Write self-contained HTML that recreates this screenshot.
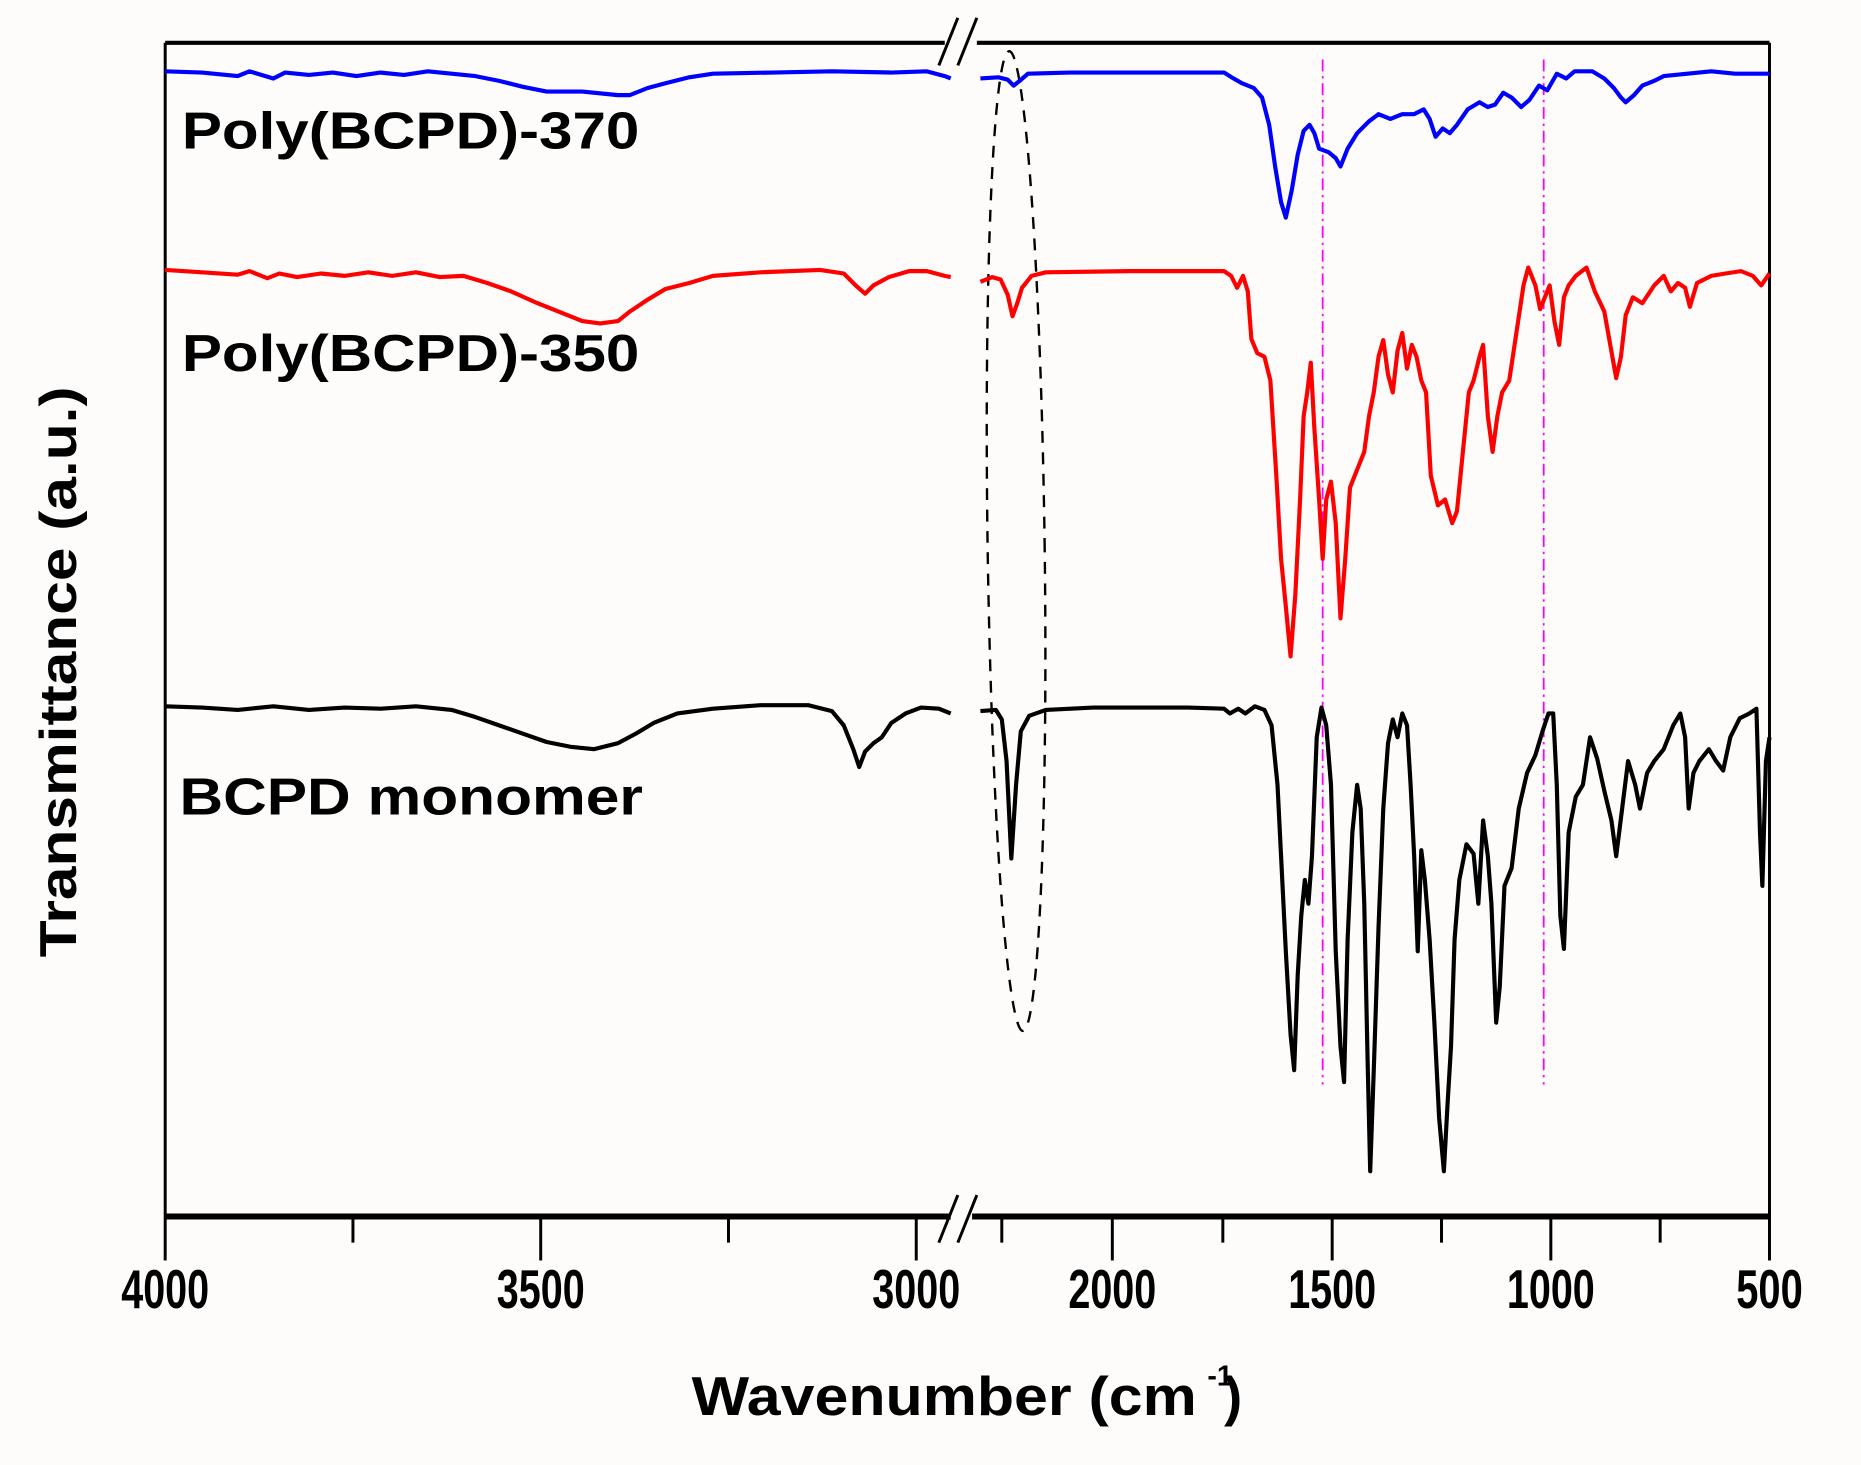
<!DOCTYPE html>
<html><head><meta charset="utf-8"><style>
html,body{margin:0;padding:0;background:#fff;}
svg{display:block;}
text{font-family:"Liberation Sans",Arial,sans-serif;font-weight:bold;fill:#000;}
</style></head><body>
<svg width="1861" height="1465" viewBox="0 0 1566 1232" preserveAspectRatio="none" xmlns="http://www.w3.org/2000/svg">
<rect width="1566" height="1232" fill="#fdfcfb"/>
<g stroke="#000" fill="none">
<line x1="139" y1="36" x2="795" y2="36" stroke-width="3.5"/>
<line x1="822" y1="36" x2="1489" y2="36" stroke-width="3.5"/>
<line x1="139" y1="36" x2="139" y2="1023" stroke-width="2.5"/>
<line x1="1489" y1="36" x2="1489" y2="1023" stroke-width="2.5"/>
<line x1="139" y1="1023" x2="800" y2="1023" stroke-width="5"/>
<line x1="818" y1="1023" x2="1489" y2="1023" stroke-width="5"/>
<line x1="790" y1="55" x2="806" y2="15" stroke-width="2.5"/>
<line x1="806" y1="55" x2="822" y2="15" stroke-width="2.5"/>
<line x1="790" y1="1045" x2="806" y2="1005" stroke-width="2.5"/>
<line x1="806" y1="1045" x2="822" y2="1005" stroke-width="2.5"/>
<g stroke-width="2.5">
<line x1="139" y1="1023" x2="139" y2="1060"/><line x1="455" y1="1023" x2="455" y2="1060"/><line x1="771" y1="1023" x2="771" y2="1060"/>
<line x1="936" y1="1023" x2="936" y2="1060"/><line x1="1121" y1="1023" x2="1121" y2="1060"/><line x1="1305" y1="1023" x2="1305" y2="1060"/><line x1="1489" y1="1023" x2="1489" y2="1060"/>
<line x1="297" y1="1023" x2="297" y2="1045"/><line x1="613" y1="1023" x2="613" y2="1045"/><line x1="843" y1="1023" x2="843" y2="1045"/>
<line x1="1029" y1="1023" x2="1029" y2="1045"/><line x1="1213" y1="1023" x2="1213" y2="1045"/><line x1="1397" y1="1023" x2="1397" y2="1045"/>
</g>
</g>
<g font-size="46" text-anchor="middle">
<text x="139" y="1100" textLength="74" lengthAdjust="spacingAndGlyphs">4000</text>
<text x="455" y="1100" textLength="74" lengthAdjust="spacingAndGlyphs">3500</text>
<text x="771" y="1100" textLength="74" lengthAdjust="spacingAndGlyphs">3000</text>
<text x="936" y="1100" textLength="74" lengthAdjust="spacingAndGlyphs">2000</text>
<text x="1121" y="1100" textLength="74" lengthAdjust="spacingAndGlyphs">1500</text>
<text x="1305" y="1100" textLength="74" lengthAdjust="spacingAndGlyphs">1000</text>
<text x="1489" y="1100" textLength="56" lengthAdjust="spacingAndGlyphs">500</text>
</g>
<text x="582" y="1190" font-size="46" textLength="425" lengthAdjust="spacingAndGlyphs">Wavenumber (cm</text>
<text x="1016" y="1165" font-size="24">-1</text>
<text x="1030" y="1190" font-size="46">)</text>
<text transform="translate(64,565) rotate(-90)" font-size="44" text-anchor="middle" textLength="480" lengthAdjust="spacingAndGlyphs">Transmittance (a.u.)</text>
<g font-size="44">
<text x="153" y="125" textLength="385" lengthAdjust="spacingAndGlyphs">Poly(BCPD)-370</text>
<text x="153" y="312" textLength="385" lengthAdjust="spacingAndGlyphs">Poly(BCPD)-350</text>
<text x="151" y="685" textLength="390" lengthAdjust="spacingAndGlyphs">BCPD monomer</text>
</g>
<g stroke="#ff00ff" stroke-width="1.5" stroke-dasharray="10,4,2,4">
<line x1="1113" y1="50" x2="1113" y2="912"/>
<line x1="1299" y1="50" x2="1299" y2="912"/>
</g>
<ellipse cx="855" cy="455" rx="24" ry="412" fill="none" stroke="#000" stroke-width="2" stroke-dasharray="10,8" transform="rotate(-0.8 855 455)"/>
<g fill="none" stroke-width="3.5" stroke-linejoin="round">
<polyline stroke="#0000ff" points="139,60 170,61 200,64 210,60 230,66 240,61 260,63 280,61 300,64 320,61 340,63 360,60 380,62 400,64 420,68 440,73 460,77 490,77 520,80 530,80 545,74 560,70 580,65 600,62 650,61 700,60 750,61 780,60 795,64 800,66"/>
<polyline stroke="#0000ff" points="825,66 840,65 848,67 853,72 858,68 865,62 900,61 1000,61 1030,61 1038,66 1045,70 1055,74 1062,82 1068,105 1073,140 1078,170 1082,183 1087,160 1092,130 1097,110 1102,105 1106,112 1110,125 1118,128 1124,133 1128,140 1134,125 1142,112 1152,102 1160,96 1170,100 1180,96 1190,96 1198,92 1203,100 1208,115 1214,108 1220,112 1226,105 1235,92 1245,86 1252,90 1258,88 1265,78 1272,82 1280,90 1287,84 1295,72 1302,76 1310,62 1318,66 1325,60 1340,60 1350,66 1358,74 1364,82 1368,86 1375,80 1382,72 1392,68 1400,64 1420,62 1440,60 1460,62 1489,62"/>
<polyline stroke="#ff0000" points="139,227 170,229 200,231 210,228 225,234 235,230 250,233 270,230 290,232 310,229 330,232 350,229 370,233 390,232 410,238 430,245 450,254 470,262 490,270 505,272 520,270 530,262 545,252 560,243 580,238 600,232 640,229 690,227 710,230 720,240 728,247 735,240 748,233 765,228 780,228 795,232 800,233"/>
<polyline stroke="#ff0000" points="825,237 835,233 842,235 848,248 852,266 856,255 860,242 868,232 880,229 950,228 1030,228 1036,232 1041,242 1046,232 1050,245 1053,285 1058,297 1064,300 1069,320 1074,400 1078,470 1082,510 1086,552 1090,500 1094,420 1097,350 1100,330 1103,305 1106,360 1110,420 1113,470 1116,420 1120,405 1124,440 1128,520 1132,470 1136,410 1140,400 1144,390 1148,380 1152,350 1156,330 1160,300 1164,286 1168,315 1172,330 1176,295 1180,280 1184,310 1188,290 1192,300 1196,320 1200,330 1204,400 1210,425 1216,420 1222,440 1226,430 1230,390 1236,330 1240,320 1245,300 1248,290 1252,350 1256,380 1260,350 1264,330 1270,320 1276,280 1282,240 1286,225 1292,240 1296,260 1300,250 1304,240 1308,270 1312,290 1316,250 1320,240 1326,232 1335,225 1342,245 1350,262 1355,290 1360,318 1364,300 1368,265 1374,250 1382,255 1392,240 1400,232 1406,245 1412,238 1418,242 1422,258 1428,238 1440,232 1452,230 1465,228 1475,232 1482,240 1489,230"/>
<polyline stroke="#000" points="139,594 170,595 200,597 230,594 260,597 290,595 320,596 350,594 380,597 400,603 420,610 440,617 460,624 480,628 500,630 520,625 535,617 550,608 570,600 600,596 640,593 680,593 700,598 710,610 718,630 723,645 728,632 735,625 742,620 750,608 762,600 775,595 790,596 800,600"/>
<polyline stroke="#000" points="825,598 838,597 843,605 847,640 851,722 855,660 859,615 866,602 880,597 920,595 1000,595 1030,596 1035,600 1042,596 1048,600 1056,594 1064,597 1070,610 1075,660 1078,720 1082,800 1086,870 1089,900 1092,820 1095,770 1098,740 1101,760 1104,720 1108,620 1112,595 1116,610 1120,660 1124,800 1128,880 1131,910 1134,790 1138,700 1142,660 1145,680 1148,760 1151,900 1153,985 1156,900 1160,780 1164,680 1168,625 1172,605 1176,620 1180,600 1184,610 1187,660 1190,720 1193,800 1196,715 1199,740 1203,790 1207,860 1211,940 1215,985 1218,930 1221,880 1224,790 1228,740 1234,710 1240,718 1244,760 1248,690 1252,720 1255,760 1259,860 1262,830 1266,745 1272,730 1278,680 1285,650 1292,635 1298,615 1303,600 1307,600 1310,660 1313,770 1316,798 1320,700 1326,670 1332,660 1338,620 1344,638 1350,665 1356,690 1360,720 1365,680 1370,640 1376,660 1380,680 1386,650 1392,640 1400,630 1408,610 1414,600 1418,620 1421,680 1425,650 1430,640 1438,630 1444,640 1450,648 1456,620 1464,604 1472,600 1478,596 1481,700 1483,745 1486,640 1489,620"/>
</g>
</svg>
</body></html>
